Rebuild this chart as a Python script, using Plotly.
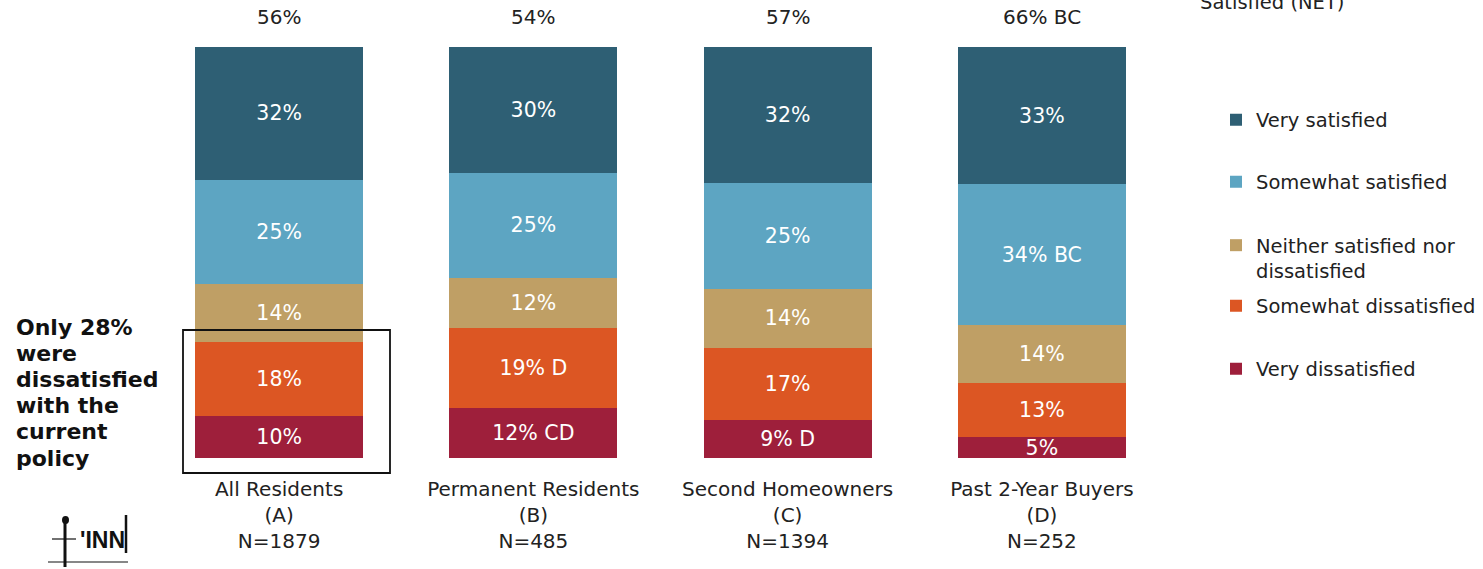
import plotly.graph_objects as go

categories = ["All Residents<br>(A)<br>N=1879", "Permanent Residents<br>(B)<br>N=485",
              "Second Homeowners<br>(C)<br>N=1394", "Past 2-Year Buyers<br>(D)<br>N=252"]
series_names = ["Very dissatisfied", "Somewhat dissatisfied",
                "Neither satisfied nor<br>dissatisfied", "Somewhat satisfied", "Very satisfied"]
very_dissatisfied = [10, 12, 9, 5]
somewhat_dissatisfied = [18, 19, 17, 13]
neither = [14, 12, 14, 14]
somewhat_satisfied = [25, 25, 25, 34]
very_satisfied = [32, 30, 32, 33]
very_dissatisfied_sig = ["", "CD", "D", ""]
somewhat_dissatisfied_sig = ["", "D", "", ""]
neither_sig = ["", "", "", ""]
somewhat_satisfied_sig = ["", "", "", "BC"]
very_satisfied_sig = ["", "", "", ""]
net_satisfied = ["56%", "54%", "57%", "66% BC"]
callout_lines = ["Only 28%", "were", "dissatisfied", "with the", "current", "policy"]
colors = ["#9E1F3B", "#DC5623", "#BF9F65", "#5DA5C2", "#2E5F74"]

FONT = "DejaVu Sans"
W, H = 1483, 569
L, R, T, B = 152, 314, 47, 111
PW, PH = W - L - R, H - T - B


def px(xp):
    return (xp - L) / PW


def py(yp):
    return (H - B - yp) / PH


series_values = [very_dissatisfied, somewhat_dissatisfied, neither, somewhat_satisfied, very_satisfied]
series_sig = [very_dissatisfied_sig, somewhat_dissatisfied_sig, neither_sig, somewhat_satisfied_sig, very_satisfied_sig]

fig = go.Figure()
legend_ids = ["legend5", "legend4", "legend3", "legend2", "legend"]
for name, vals, sig, col, lg in zip(series_names, series_values, series_sig, colors, legend_ids):
    txt = [f"{v}%" + (f" {s}" if s else "") for v, s in zip(vals, sig)]
    fig.add_trace(go.Bar(
        x=categories, y=vals, name=name, marker=dict(color=col, line=dict(width=0)),
        text=txt, textposition="inside", insidetextanchor="middle", constraintext="none",
        textfont=dict(color="white", size=20.5, family=FONT), legend=lg, hoverinfo="skip",
    ))

for c, t in zip(categories, net_satisfied):
    fig.add_annotation(x=c, y=100, xref="x", yref="y", text=t, showarrow=False,
                       yanchor="bottom", yshift=16, font=dict(size=20, color="#222", family=FONT))

fig.add_annotation(x=px(1198), y=py(3), xref="paper", yref="paper", xanchor="left", yanchor="middle",
                   text="Satisfied (NET)", showarrow=False, font=dict(size=19.5, color="#222", family=FONT))

for i, line in enumerate(callout_lines):
    fig.add_annotation(x=px(14), y=py(327 + 26.2 * i), xref="paper", yref="paper", xanchor="left",
                       yanchor="middle", align="left", showarrow=False, text=f"<b>{line}</b>",
                       font=dict(size=22, color="#111", family=FONT))

# logo
fig.add_annotation(x=px(102), y=py(540), xref="paper", yref="paper", xanchor="center", yanchor="middle",
                   showarrow=False, text="<b>'INN</b>",
                   font=dict(size=23, color="#111", family="Liberation Sans Narrow, Liberation Sans"))
logo_lines = [
    (65, 520, 65, 567, 3),
    (52, 539, 76, 539, 1.2),
    (48, 562, 128, 562, 1.2),
    (126, 515, 126, 553, 2.5),
]
for x0, y0, x1, y1, w in logo_lines:
    fig.add_shape(type="line", xref="paper", yref="paper", x0=px(x0), y0=py(y0), x1=px(x1), y1=py(y1),
                  line=dict(color="#111", width=w))
fig.add_shape(type="circle", xref="paper", yref="paper", x0=px(62), x1=px(69), y0=py(524), y1=py(516),
              fillcolor="#111", line=dict(width=0))

# annotation box
fig.add_shape(type="rect", xref="paper", yref="paper", x0=px(183), x1=px(390), y0=py(473), y1=py(330),
              line=dict(color="#111", width=1.8), fillcolor="rgba(0,0,0,0)")

LX = 1216 / W
leg_common = dict(xref="container", yref="container", xanchor="left", bgcolor="rgba(0,0,0,0)",
                  font=dict(size=19.5, color="#222", family=FONT), valign="top")
fig.update_layout(
    legend=dict(x=LX, y=1 - 120/H, yanchor="middle", **leg_common),
    legend2=dict(x=LX, y=1 - 182/H, yanchor="middle", **leg_common),
    legend3=dict(x=LX, y=1 - 226/H, yanchor="top", **leg_common),
    legend4=dict(x=LX, y=1 - 306/H, yanchor="middle", **leg_common),
    legend5=dict(x=LX, y=1 - 369/H, yanchor="middle", **leg_common),
)

fig.update_layout(
    width=W, height=H, barmode="stack", barnorm="percent", bargap=0.34,
    margin=dict(l=L, r=R, t=T, b=B),
    plot_bgcolor="white", paper_bgcolor="white",
    xaxis=dict(showgrid=False, showline=False, ticks="", ticklabelstandoff=17,
               tickfont=dict(size=20, color="#222", family=FONT)),
    yaxis=dict(visible=False, range=[0, 100], showgrid=False),
    showlegend=True,
)
fig.write_html("out.html")
